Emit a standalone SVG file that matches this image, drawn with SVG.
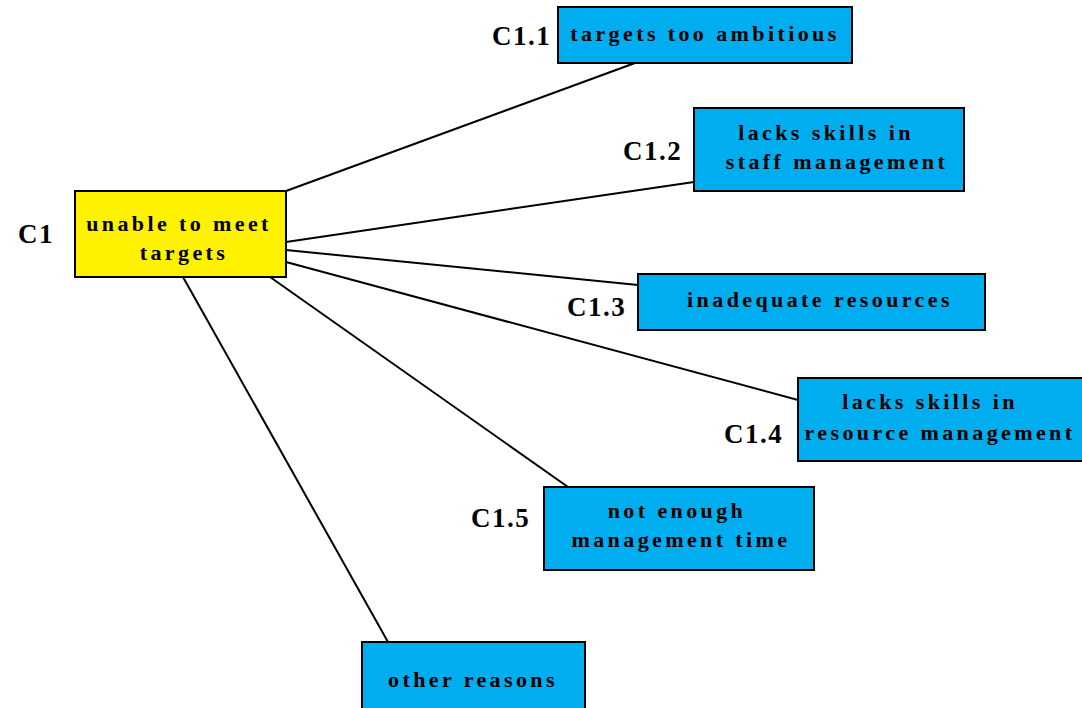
<svg xmlns="http://www.w3.org/2000/svg" width="1082" height="708" viewBox="0 0 1082 708">
<style>
.box{fill:#00AEEF;stroke:#000;stroke-width:2}
.root{fill:#FFF200;stroke:#000;stroke-width:2}
.t{font-family:"Liberation Serif",serif;font-weight:bold;font-size:22px;letter-spacing:3.4px;fill:#000;text-anchor:middle}
.lbl{font-family:"Liberation Serif",serif;font-weight:bold;font-size:27px;letter-spacing:1.5px;fill:#000}
.c{stroke:#000;stroke-width:2;fill:none}
</style>
<rect width="1082" height="708" fill="#fff"/>
<g id="connectors">
<line class="c" x1="286" y1="191" x2="635" y2="63"/>
<line class="c" x1="286" y1="242" x2="694" y2="182"/>
<line class="c" x1="286" y1="250" x2="638" y2="285"/>
<line class="c" x1="286" y1="262" x2="798" y2="400"/>
<line class="c" x1="270" y1="277" x2="568" y2="487"/>
<line class="c" x1="183" y1="277" x2="388" y2="642"/>
</g>
<g id="C1">
<rect class="root" x="75" y="191" width="211" height="86"/>
<text class="t" x="179" y="231">unable to meet</text>
<text class="t" x="184" y="260">targets</text>
<text class="lbl" x="18" y="243">C1</text>
</g>
<g id="C1.1">
<rect class="box" x="558" y="7" width="294" height="56"/>
<text class="t" x="705" y="41">targets too ambitious</text>
<text class="lbl" x="492" y="45">C1.1</text>
</g>
<g id="C1.2">
<rect class="box" x="694" y="108" width="270" height="83"/>
<text class="t" x="826" y="140">lacks skills in</text>
<text class="t" x="837" y="169">staff management</text>
<text class="lbl" x="623" y="160">C1.2</text>
</g>
<g id="C1.3">
<rect class="box" x="638" y="274" width="347" height="56"/>
<text class="t" x="820" y="307">inadequate resources</text>
<text class="lbl" x="567" y="316">C1.3</text>
</g>
<g id="C1.4">
<rect class="box" x="798" y="378" width="290" height="83"/>
<text class="t" x="930" y="409">lacks skills in</text>
<text class="t" x="940" y="440">resource management</text>
<text class="lbl" x="724" y="443">C1.4</text>
</g>
<g id="C1.5">
<rect class="box" x="544" y="487" width="270" height="83"/>
<text class="t" x="677" y="518">not enough</text>
<text class="t" x="681" y="547">management time</text>
<text class="lbl" x="471" y="527">C1.5</text>
</g>
<g id="other">
<rect class="box" x="362" y="642" width="223" height="80"/>
<text class="t" x="473" y="687">other reasons</text>
</g>
</svg>
